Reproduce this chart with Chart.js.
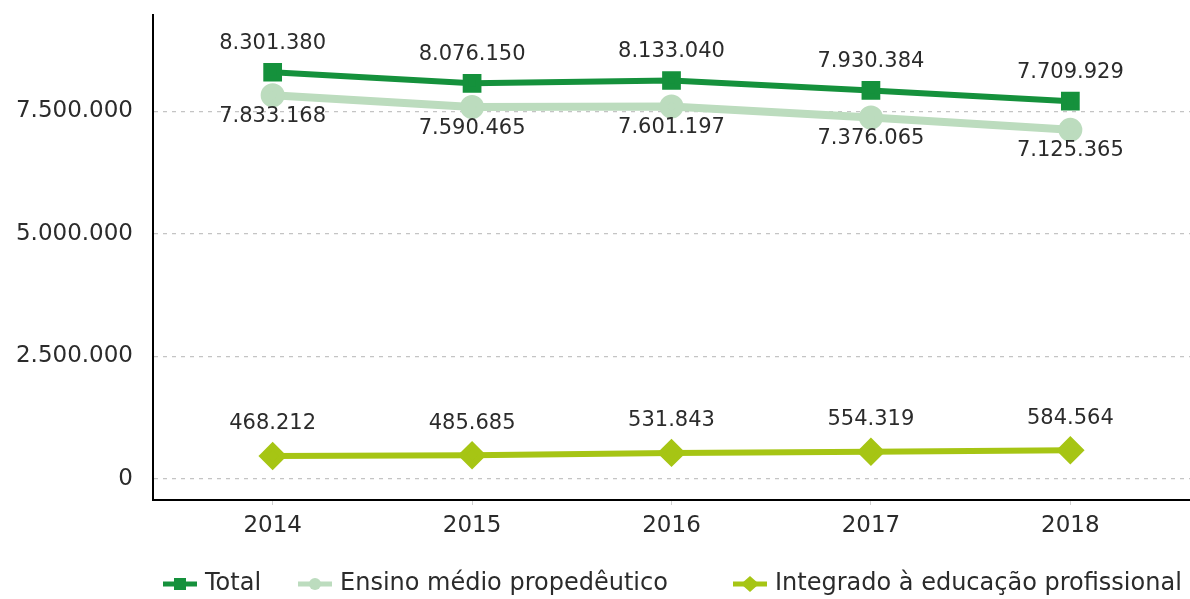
<!DOCTYPE html>
<html>
<head>
<meta charset="utf-8">
<script src="https://cdn.jsdelivr.net/npm/chart.js@4/dist/chart.umd.min.js"></script>
<style>
  html, body { margin: 0; padding: 0; background: #fff; overflow: hidden; }
  canvas { display: block; }
</style>
</head>
<body>
<canvas id="chart" width="1190" height="599"></canvas>
<script>
var years = [2014, 2015, 2016, 2017, 2018];
var total = [8301380, 8076150, 8133040, 7930384, 7709929];
var propedeutico = [7833168, 7590465, 7601197, 7376065, 7125365];
var integrado = [468212, 485685, 531843, 554319, 584564];
var yTicks = [0, 2500000, 5000000, 7500000];

var FONT = '"DejaVu Sans", "Open Sans", sans-serif';
var TEXT = '#2b2b2b';

function fmt(v) {
  return String(v).replace(/\B(?=(\d{3})+(?!\d))/g, '.');
}

function pairs(arr) {
  return years.map(function(y, i) { return {x: y, y: arr[i]}; });
}

// numbers printed next to each point
var valueLabels = {
  id: 'valueLabels',
  afterDatasetsDraw: function(chart) {
    var ctx = chart.ctx;
    ctx.save();
    ctx.font = '21px ' + FONT;
    ctx.fillStyle = TEXT;
    ctx.textAlign = 'center';
    ctx.textBaseline = 'middle';
    chart.data.datasets.forEach(function(ds, i) {
      var meta = chart.getDatasetMeta(i);
      meta.data.forEach(function(pt, j) {
        ctx.fillText(fmt(ds.data[j].y), pt.x, pt.y + ds.labelDy);
      });
    });
    ctx.restore();
  }
};

// legend: line + marker, then the name
var lineLegend = {
  id: 'lineLegend',
  afterDraw: function(chart) {
    var ctx = chart.ctx;
    var starts = [163, 298, 733], y = 584;
    ctx.save();
    ctx.font = '24px ' + FONT;
    ctx.textBaseline = 'middle';
    chart.data.datasets.forEach(function(ds, i) {
      var x = starts[i];
      ctx.strokeStyle = ds.borderColor;
      ctx.fillStyle = ds.borderColor;
      ctx.lineWidth = 5;
      ctx.beginPath(); ctx.moveTo(x, y); ctx.lineTo(x + 34, y); ctx.stroke();
      ctx.beginPath();
      var cx = x + 17;
      if (ds.pointStyle === 'rect') ctx.rect(cx - 6, y - 6, 12, 12);
      else if (ds.pointStyle === 'circle') ctx.arc(cx, y, 6, 0, Math.PI * 2);
      else { ctx.moveTo(cx, y - 8); ctx.lineTo(cx + 9, y); ctx.lineTo(cx, y + 8); ctx.lineTo(cx - 9, y); ctx.closePath(); }
      ctx.fill();
      ctx.fillStyle = TEXT;
      ctx.fillText(ds.label, x + 42, y);
    });
    ctx.restore();
  }
};

new Chart(document.getElementById('chart').getContext('2d'), {
  type: 'line',
  data: {
    datasets: [{
      label: 'Total',
      data: pairs(total),
      borderColor: '#15913c',
      backgroundColor: '#15913c',
      borderWidth: 6,
      pointStyle: 'rect',
      pointRadius: 9,
      labelDy: -29,
      order: 1
    }, {
      label: 'Ensino médio propedêutico',
      data: pairs(propedeutico),
      borderColor: '#bcdcbe',
      backgroundColor: '#bcdcbe',
      borderWidth: 8,
      pointStyle: 'circle',
      pointRadius: 8,
      labelDy: 21,
      order: 2
    }, {
      label: 'Integrado à educação profissional',
      data: pairs(integrado),
      borderColor: '#a6c514',
      backgroundColor: '#a6c514',
      borderWidth: 6,
      pointStyle: 'rectRot',
      pointRadius: 10,
      labelDy: -32,
      order: 3
    }]
  },
  options: {
    responsive: false,
    animation: false,
    devicePixelRatio: 1,
    layout: { autoPadding: false, padding: { top: 15, right: 0, left: 0, bottom: 54 } },
    elements: { line: { tension: 0 } },
    plugins: {
      legend: { display: false },
      tooltip: { enabled: false }
    },
    scales: {
      x: {
        type: 'linear',
        min: 2013.4,
        max: 2018.6,
        afterBuildTicks: function(scale) {
          scale.ticks = years.map(function(v) { return {value: v}; });
        },
        afterFit: function(scale) {
          scale.height = 45;
          scale.paddingLeft = 0; scale.paddingRight = 0;
        },
        border: { display: true, color: '#000', width: 2 },
        grid: { drawOnChartArea: false, drawTicks: true, tickLength: 5, color: '#cfcfcf' },
        ticks: {
          color: TEXT,
          padding: 7,
          font: { family: FONT, size: 23 },
          callback: function(v) { return String(v); }
        }
      },
      y: {
        min: -430000,
        max: 9470000,
        afterBuildTicks: function(scale) {
          scale.ticks = yTicks.map(function(v) { return {value: v}; });
        },
        afterFit: function(scale) {
          scale.width = 153;
          scale.paddingTop = 0; scale.paddingBottom = 0;
        },
        border: { display: true, color: '#000', width: 2, dash: [4, 5] },
        grid: { drawTicks: false, color: '#c4c4c4', lineWidth: 1.3 },
        ticks: {
          color: TEXT,
          padding: 20,
          font: { family: FONT, size: 23 },
          callback: function(v) { return fmt(v); }
        }
      }
    }
  },
  plugins: [valueLabels, lineLegend]
});
</script>
</body>
</html>
